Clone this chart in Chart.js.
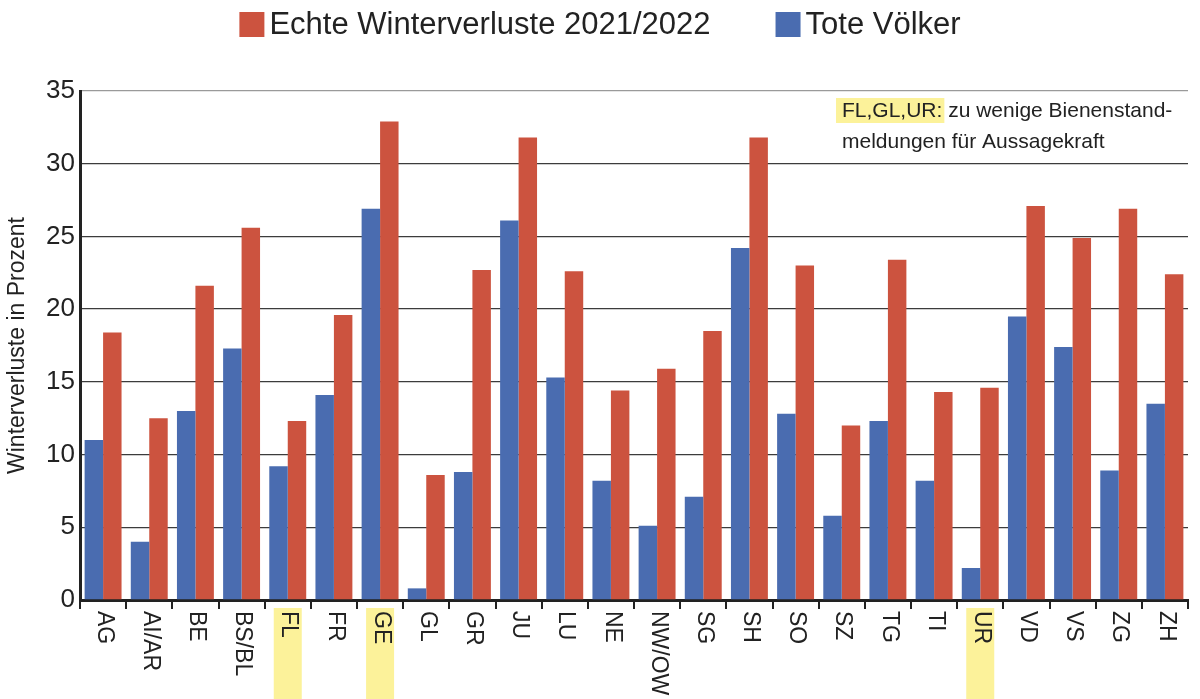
<!DOCTYPE html>
<html>
<head>
<meta charset="utf-8">
<script src="https://cdn.jsdelivr.net/npm/chart.js@4.4.0/dist/chart.umd.min.js"></script>
<style>
  html, body { margin: 0; padding: 0; background: #fff; }
  #wrap { width: 1200px; height: 699px; position: relative; }
</style>
</head>
<body>
<div id="wrap"><canvas id="lossChart"></canvas></div>
<script>
// Cantons on the x axis
const cantons = ['AG', 'AI/AR', 'BE', 'BS/BL', 'FL', 'FR', 'GE', 'GL', 'GR', 'JU', 'LU', 'NE',
                 'NW/OW', 'SG', 'SH', 'SO', 'SZ', 'TG', 'TI', 'UR', 'VD', 'VS', 'ZG', 'ZH'];
// Tote Völker (blue), percent
const toteVoelker = [11.0, 4.0, 13.0, 17.3, 9.2, 14.1, 26.9, 0.8, 8.8, 26.1, 15.3, 8.2,
                     5.1, 7.1, 24.2, 12.8, 5.8, 12.3, 8.2, 2.2, 19.5, 17.4, 8.9, 13.5];
// Echte Winterverluste 2021/2022 (red), percent
const echteVerluste = [18.4, 12.5, 21.6, 25.6, 12.3, 19.6, 32.9, 8.6, 22.7, 31.8, 22.6, 14.4,
                       15.9, 18.5, 31.8, 23.0, 12.0, 23.4, 14.3, 14.6, 27.1, 24.9, 26.9, 22.4];
// Cantons with a yellow label background
const highlighted = ['FL', 'GE', 'UR'];
// y axis range
const yMin = 0;
const yMax = 35;
const yStep = 5;

const FONT = "'Liberation Sans', Arial, sans-serif";
const TEXT = '#222';

// Draws rotated canton labels, the legend and the note
const decorations = {
    id: 'decorations',
    afterDraw(chart) {
        const ctx = chart.ctx;
        const xs = chart.scales.x;
        const area = chart.chartArea;
        ctx.save();

        // yellow boxes behind a few labels
        ctx.fillStyle = '#fcf29a';
        cantons.forEach((c, i) => {
            if (highlighted.includes(c)) {
                const px = xs.getPixelForValue(i);
                ctx.fillRect(px - 14, xs.top + 8, 28, chart.height - xs.top - 8);
            }
        });

        // canton labels, reading top to bottom
        ctx.fillStyle = TEXT;
        ctx.font = '23px ' + FONT;
        ctx.textAlign = 'left';
        ctx.textBaseline = 'middle';
        cantons.forEach((c, i) => {
            ctx.save();
            ctx.translate(xs.getPixelForValue(i) + 1, xs.top + 11);
            ctx.rotate(Math.PI / 2);
            ctx.fillText(c, 0, 0);
            ctx.restore();
        });

        // legend: red first, then blue
        const items = chart.data.datasets.slice().reverse();
        ctx.font = '31px ' + FONT;
        const box = 25, gap = 5, spacing = 65;
        let total = 0;
        items.forEach((ds, i) => {
            total += box + gap + ctx.measureText(ds.label).width + (i > 0 ? spacing : 0);
        });
        let lx = (chart.width - total) / 2;
        items.forEach(ds => {
            ctx.fillStyle = ds.backgroundColor;
            ctx.fillRect(lx, 12, box, box);
            ctx.fillStyle = TEXT;
            ctx.fillText(ds.label, lx + box + gap, 25);
            lx += box + gap + ctx.measureText(ds.label).width + spacing;
        });

        // note in the upper right corner
        ctx.font = '21px ' + FONT;
        ctx.textBaseline = 'alphabetic';
        const nx = area.right - 346;
        const head = 'FL,GL,UR:';
        const hw = ctx.measureText(head).width;
        ctx.fillStyle = '#fcf29a';
        ctx.fillRect(nx - 6, 98, hw + 8, 25);
        ctx.fillStyle = TEXT;
        ctx.fillText(head, nx, 117);
        ctx.fillText(' zu wenige Bienenstand-', nx + hw, 117);
        ctx.fillText('meldungen für Aussagekraft', nx, 148);

        ctx.restore();
    }
};

const ctx = document.getElementById('lossChart').getContext('2d');
const lossChart = new Chart(ctx, {
    type: 'bar',
    data: {
        labels: cantons,
        datasets: [
            {
                label: 'Tote Völker',
                data: toteVoelker,
                backgroundColor: '#4a6cb0',
                categoryPercentage: 0.8,
                barPercentage: 1.0
            },
            {
                label: 'Echte Winterverluste 2021/2022',
                data: echteVerluste,
                backgroundColor: '#cc533f',
                categoryPercentage: 0.8,
                barPercentage: 1.0
            }
        ]
    },
    options: {
        responsive: true,
        maintainAspectRatio: false,
        animation: false,
        layout: { padding: { top: 91, right: 12, left: 0, bottom: 0 } },
        plugins: {
            legend: { display: false },
            tooltip: { enabled: false }
        },
        scales: {
            x: {
                grid: {
                    display: true,
                    drawOnChartArea: false,
                    drawTicks: true,
                    tickLength: 9,
                    color: TEXT,
                    lineWidth: 2,
                    offset: true
                },
                border: { display: true, color: TEXT, width: 3 },
                ticks: { display: false },
                afterFit: s => { s.height = 99; }
            },
            y: {
                min: yMin,
                max: yMax,
                ticks: {
                    stepSize: yStep,
                    color: TEXT,
                    font: { size: 26, family: FONT },
                    padding: 5
                },
                grid: {
                    color: c => (c.tick && c.tick.value === yMax) ? '#9a9a9a' : '#3c3c3c',
                    lineWidth: 1.3,
                    drawTicks: false
                },
                border: { display: true, color: TEXT, width: 3 },
                title: {
                    display: true,
                    text: 'Winterverluste in Prozent',
                    color: TEXT,
                    font: { size: 23, family: FONT },
                    padding: { top: 4, bottom: 0 }
                },
                afterFit: s => { s.width = 80; }
            }
        }
    },
    plugins: [decorations]
});
</script>
</body>
</html>
